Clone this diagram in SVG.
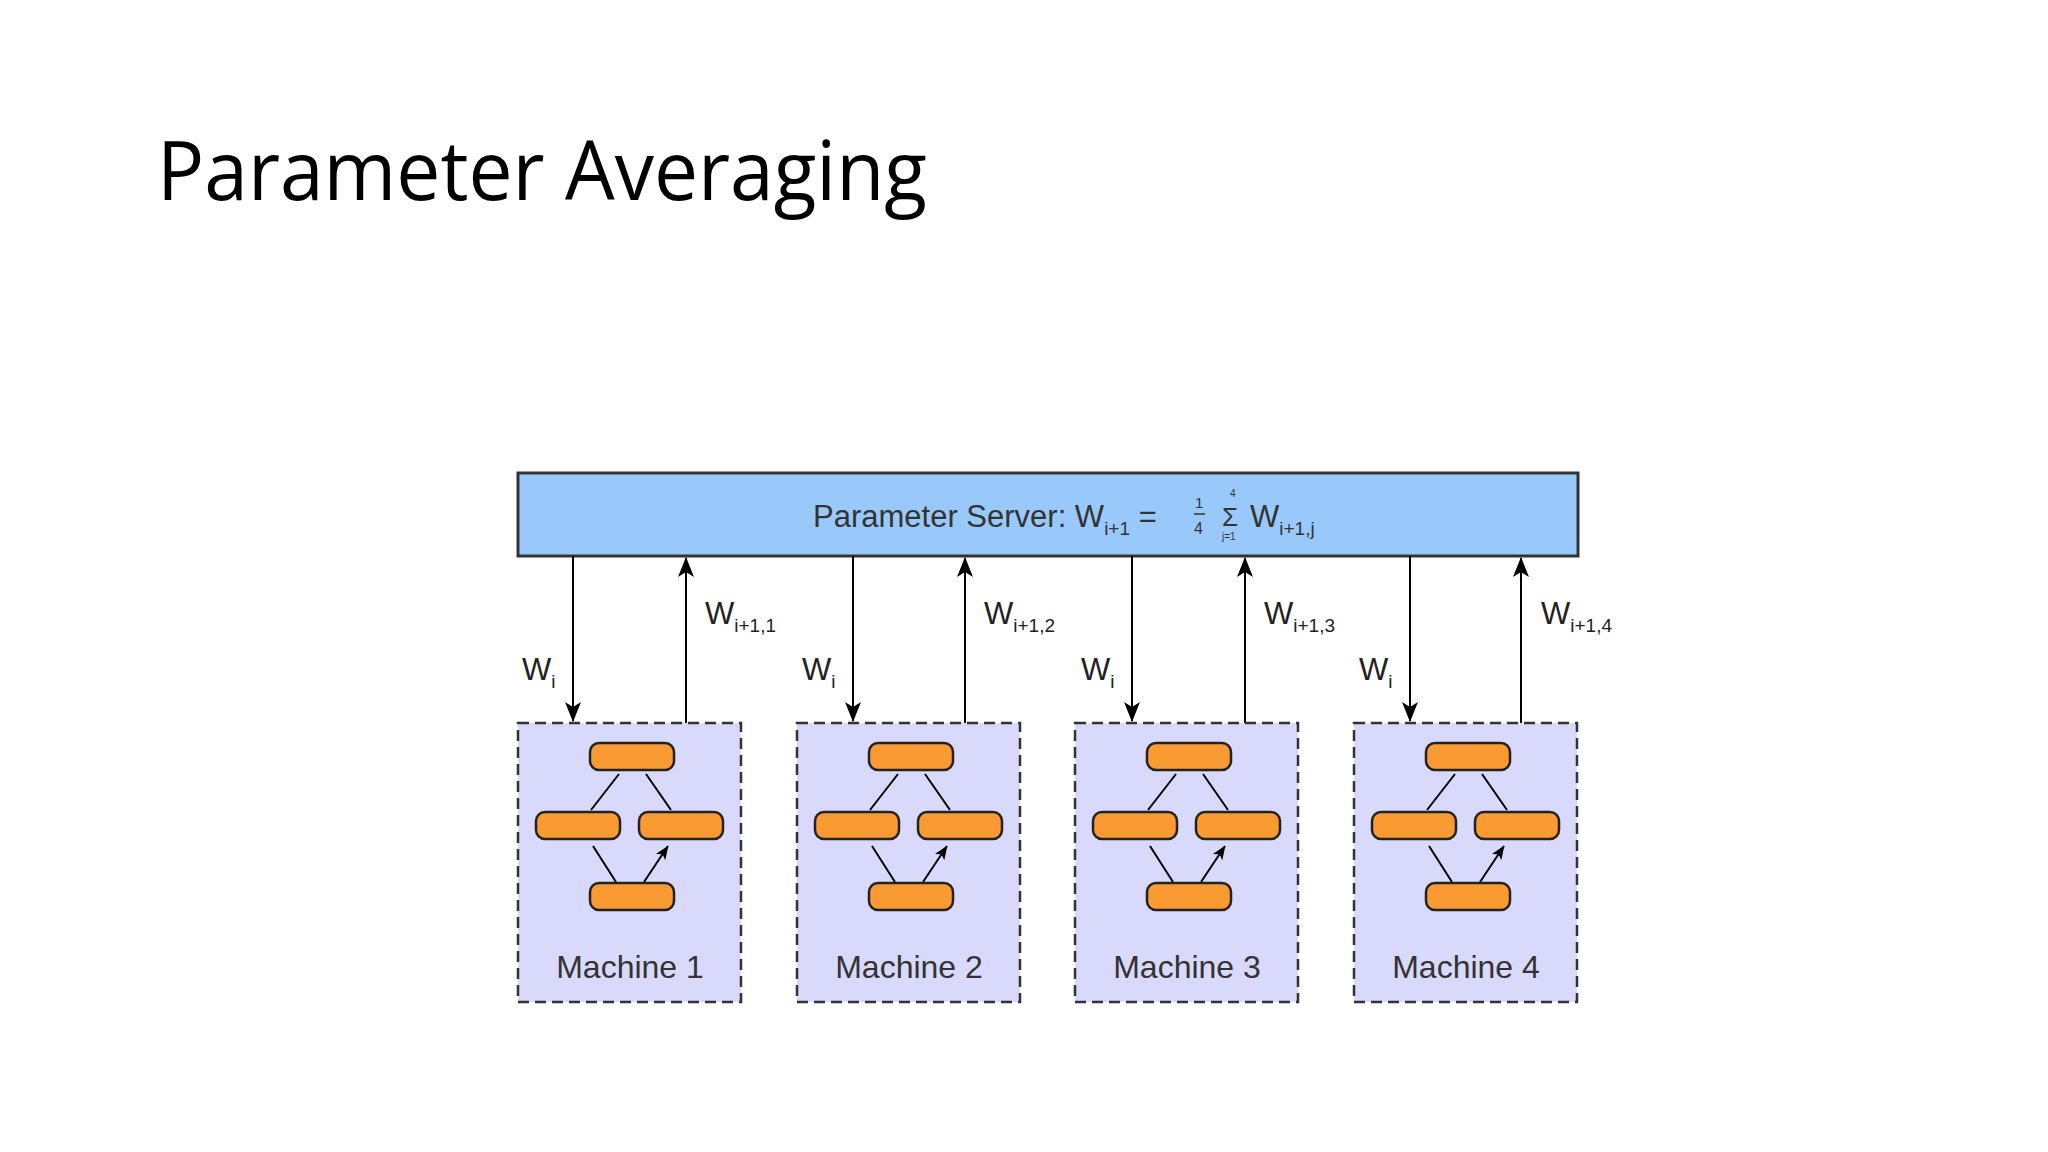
<svg xmlns="http://www.w3.org/2000/svg" width="2048" height="1152" viewBox="0 0 2048 1152">
<defs>
<marker id="ah" viewBox="0 0 20 20" refX="19" refY="10" markerWidth="20" markerHeight="20" markerUnits="userSpaceOnUse" orient="auto">
<path d="M0,2 L20,10 L0,18 L5,10 Z" fill="#000"/>
</marker>
<marker id="as" viewBox="0 0 20 20" refX="19" refY="10" markerWidth="14" markerHeight="14" markerUnits="userSpaceOnUse" orient="auto">
<path d="M0,2 L20,10 L0,18 L5,10 Z" fill="#000"/>
</marker>
<g id="net">
<path d="M73,810 L101,774 M153,810 L128,774 M98,882 L75,846 M126,882 L150,846" stroke="#000" stroke-width="2" fill="none" marker-end="url(#as)"/>
<rect x="72" y="743" width="84" height="27" rx="9" class="pill"/>
<rect x="18" y="812" width="84" height="27" rx="9" class="pill"/>
<rect x="121" y="812" width="84" height="27" rx="9" class="pill"/>
<rect x="72" y="883" width="84" height="27" rx="9" class="pill"/>
</g>
</defs>
<style>
.pill{fill:#fa9a32;stroke:#222;stroke-width:2.5}
.mach{fill:#d9d9fb;stroke:#333;stroke-width:2.5;stroke-dasharray:11,6}
.t{font-family:"Liberation Sans",Arial,sans-serif;fill:#333}
.lbl{font-family:"Liberation Sans",Arial,sans-serif;fill:#222;font-size:31px}
.sub{font-size:19px}
.ln{stroke:#000;stroke-width:2;fill:none;marker-end:url(#ah)}
</style>
<rect width="2048" height="1152" fill="#fff"/>
<text x="157" y="200" font-family="'Open Sans','Noto Sans',sans-serif" font-size="82" fill="#000" textLength="770" lengthAdjust="spacingAndGlyphs">Parameter Averaging</text>
<g id="server">
<rect x="518" y="473" width="1060" height="83" fill="#99c9fb" stroke="#333" stroke-width="3"/>
<text class="t" x="813" y="527" font-size="31">Parameter Server: W<tspan class="sub" dy="8">i+1</tspan><tspan dy="-8"> = </tspan></text>
<text class="t" x="1195" y="508" font-size="15">1</text>
<line x1="1194" y1="514" x2="1205" y2="514" stroke="#333" stroke-width="1.5"/>
<text class="t" x="1194" y="534" font-size="16">4</text>
<text class="t" x="1230" y="497" font-size="10">4</text>
<text class="t" x="1222" y="526" font-size="26">Σ</text>
<text class="t" x="1222" y="540" font-size="10">j=1</text>
<text class="t" x="1250" y="527" font-size="31">W<tspan class="sub" dy="8">i+1,j</tspan></text>
</g>
<g id="connectors">
<line class="ln" x1="573" y1="556" x2="573" y2="721"/>
<line class="ln" x1="686" y1="723" x2="686" y2="558"/>
<line class="ln" x1="853" y1="556" x2="853" y2="721"/>
<line class="ln" x1="965" y1="723" x2="965" y2="558"/>
<line class="ln" x1="1132" y1="556" x2="1132" y2="721"/>
<line class="ln" x1="1245" y1="723" x2="1245" y2="558"/>
<line class="ln" x1="1410" y1="556" x2="1410" y2="721"/>
<line class="ln" x1="1521" y1="723" x2="1521" y2="558"/>
</g>
<g id="labels">
<text class="lbl" x="522" y="680">W<tspan class="sub" dy="8">i</tspan></text>
<text class="lbl" x="802" y="680">W<tspan class="sub" dy="8">i</tspan></text>
<text class="lbl" x="1081" y="680">W<tspan class="sub" dy="8">i</tspan></text>
<text class="lbl" x="1359" y="680">W<tspan class="sub" dy="8">i</tspan></text>
<text class="lbl" x="705" y="624">W<tspan class="sub" dy="8">i+1,1</tspan></text>
<text class="lbl" x="984" y="624">W<tspan class="sub" dy="8">i+1,2</tspan></text>
<text class="lbl" x="1264" y="624">W<tspan class="sub" dy="8">i+1,3</tspan></text>
<text class="lbl" x="1541" y="624">W<tspan class="sub" dy="8">i+1,4</tspan></text>
</g>
<g id="machine1">
<rect class="mach" x="518" y="723" width="223" height="279"/>
<use href="#net" x="518"/>
<text class="t" x="630" y="978" font-size="32" text-anchor="middle">Machine 1</text>
</g>
<g id="machine2">
<rect class="mach" x="797" y="723" width="223" height="279"/>
<use href="#net" x="797"/>
<text class="t" x="909" y="978" font-size="32" text-anchor="middle">Machine 2</text>
</g>
<g id="machine3">
<rect class="mach" x="1075" y="723" width="223" height="279"/>
<use href="#net" x="1075"/>
<text class="t" x="1187" y="978" font-size="32" text-anchor="middle">Machine 3</text>
</g>
<g id="machine4">
<rect class="mach" x="1354" y="723" width="223" height="279"/>
<use href="#net" x="1354"/>
<text class="t" x="1466" y="978" font-size="32" text-anchor="middle">Machine 4</text>
</g>
</svg>
